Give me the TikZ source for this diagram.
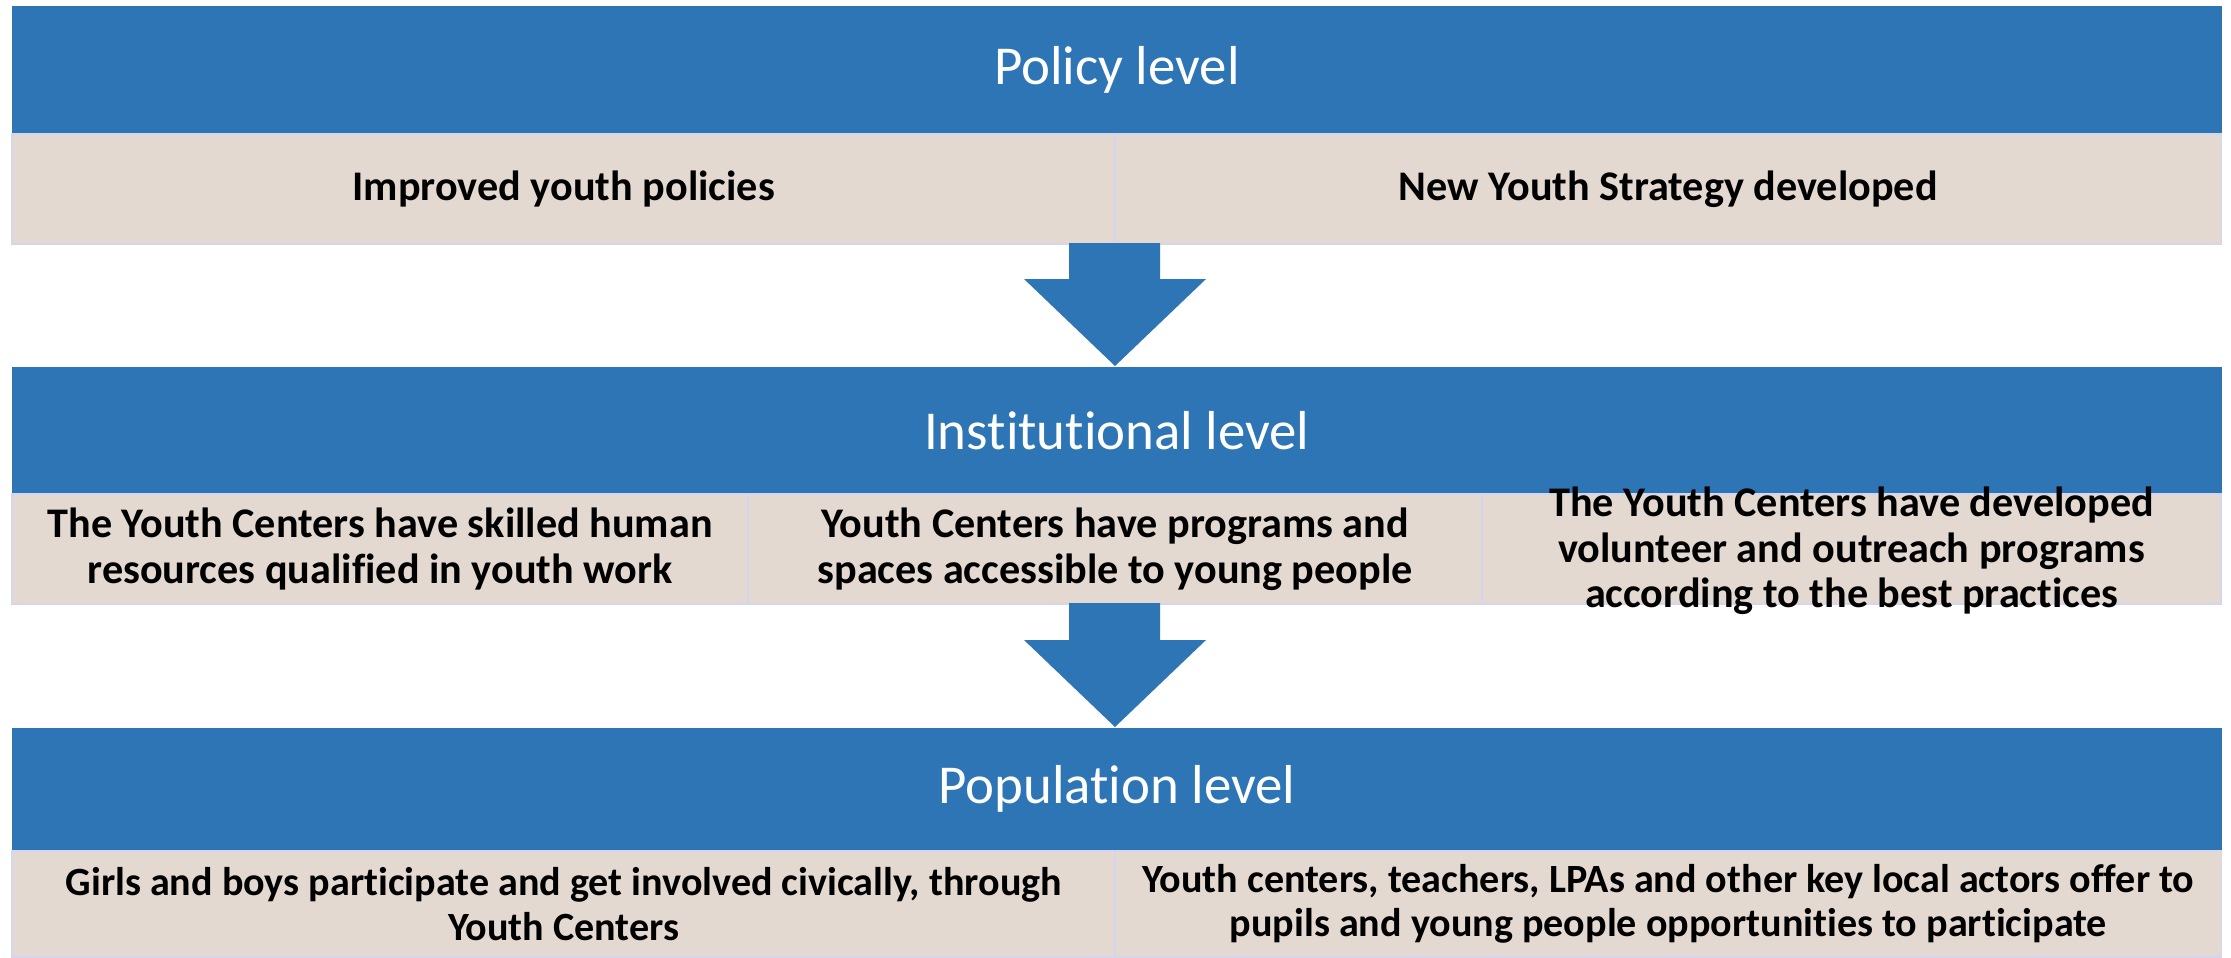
\documentclass[tikz,border=0pt]{standalone}
\usepackage{fontspec}
\setmainfont{Carlito}[Ligatures=NoCommon]
\definecolor{barblue}{HTML}{2E75B6}
\definecolor{cellbeige}{HTML}{E4D9D1}
\definecolor{cellline}{HTML}{D3D6EC}
% block arrow: top of shaft, tip
\newcommand{\blockarrow}[2]{%
  \fill[barblue] (1069,#1) -- (1160,#1) -- (1160,#2-87) -- (1206,#2-87)
    -- (1115,#2) -- (1024,#2-87) -- (1069,#2-87) -- cycle;}
\begin{document}
\begin{tikzpicture}[x=0.01cm,y=-0.01cm,
  bar/.style={fill=barblue,text=white,font=\fontsize{15.6}{18}\selectfont,
    minimum width=22.09cm,inner sep=0pt,anchor=north west},
  cell/.style={fill=cellbeige,draw=cellline,line width=0.5pt,align=center,
    font=\bfseries\fontsize{12}{13}\selectfont,inner sep=0pt,anchor=north west},
  celltext/.style={align=center,font=\bfseries\fontsize{12}{13}\selectfont,inner sep=0pt},
  small/.style={font=\bfseries\fontsize{11.4}{12.6}\selectfont}]
\useasboundingbox (0,0) rectangle (2231,957);

% policy
\node[bar,minimum height=1.28cm] (policy) at (11,5) {Policy level};
\node[cell,minimum width=11.03cm,minimum height=1.10cm] (pol1) at (11,133) {Improved youth policies};
\node[cell,minimum width=11.06cm,minimum height=1.10cm] (pol2) at (1114,133) {New Youth Strategy developed};

\blockarrow{243}{366}

% institutional
\node[bar,minimum height=1.27cm] (inst) at (11,366) {Institutional level};
\node[cell,minimum width=7.36cm,minimum height=1.10cm] (inst1) at (11,493)
  {The Youth Centers have skilled human\\resources qualified in youth work};
\node[cell,minimum width=7.34cm,minimum height=1.10cm] (inst2) at (747,493)
  {Youth Centers have programs and\\spaces accessible to young people};
\node[cell,minimum width=7.39cm,minimum height=1.10cm] (inst3) at (1481,493) {};
\node[celltext] (inst3txt) at ([yshift=-0.02cm]inst3.center)
  {The Youth Centers have developed\\volunteer and outreach programs\\according to the best practices};

\blockarrow{603}{727}

% population
\node[bar,minimum height=1.23cm] (pop) at (11,727) {Population level};
\node[cell,small,minimum width=11.03cm,minimum height=1.06cm] (pop1) at (11,850)
  {Girls and boys participate and get involved civically, through\\Youth Centers};
\node[cell,small,minimum width=11.06cm,minimum height=1.06cm] (pop2) at (1114,850)
  {Youth centers, teachers, LPAs and other key local actors offer to\\pupils and young people opportunities to participate};
\end{tikzpicture}
\end{document}
